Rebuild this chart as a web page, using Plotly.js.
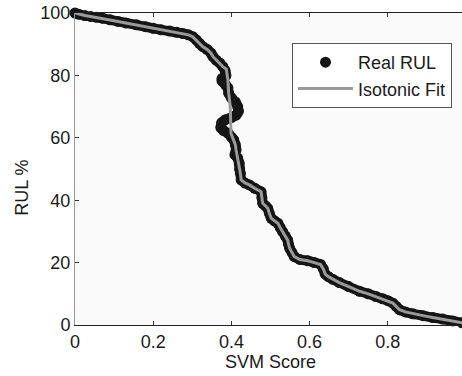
<!DOCTYPE html>
<html>
<head>
<meta charset="utf-8">
<script src="https://cdn.plot.ly/plotly-3.0.1.min.js"></script>
<style>
html,body{margin:0;padding:0;overflow:hidden;background:#fff;width:462px;height:376px;}
#chart{width:490px;height:376px;}
</style>
</head>
<body>
<div id="chart"></div>
<script>
// Real RUL: SVM score vs RUL %
const realScore = [0.000,0.010,0.025,0.040,0.055,0.071,0.090,0.110,0.130,0.157,0.180,0.200,0.220,0.242,0.260,0.276,0.290,0.301,0.310,0.318,0.327,0.338,0.348,0.353,0.361,0.370,0.378,0.384,0.386,0.376,0.376,0.385,0.391,0.393,0.400,0.410,0.416,0.418,0.412,0.400,0.385,0.375,0.373,0.380,0.392,0.400,0.406,0.410,0.412,0.409,0.416,0.420,0.421,0.423,0.425,0.435,0.446,0.460,0.476,0.478,0.480,0.487,0.493,0.497,0.502,0.510,0.519,0.525,0.531,0.538,0.544,0.546,0.549,0.555,0.561,0.575,0.595,0.612,0.628,0.635,0.640,0.648,0.660,0.676,0.700,0.728,0.750,0.770,0.787,0.800,0.813,0.822,0.830,0.845,0.864,0.890,0.915,0.940,0.966,0.990,1.000];
const realRUL   = [100.0,99.6,99.2,98.9,98.6,98.3,97.8,97.3,96.8,96.2,95.6,95.1,94.6,94.2,93.8,93.4,93.0,92.4,91.4,90.3,89.2,88.3,87.1,86.0,84.9,84.0,82.8,81.5,80.0,79.0,78.2,77.0,76.0,74.3,72.8,71.5,70.0,68.5,67.3,66.5,65.8,64.8,63.3,62.3,61.4,60.2,59.3,57.8,56.1,54.6,53.5,51.8,50.0,48.6,46.5,45.5,44.9,43.8,42.7,40.8,39.0,38.2,37.4,35.8,34.2,33.4,32.6,31.2,29.9,28.5,27.2,25.9,24.6,23.2,21.9,21.0,20.6,20.0,19.4,18.0,16.3,15.5,14.6,13.6,12.3,10.8,10.0,9.1,8.4,7.8,7.0,5.9,4.9,4.2,3.6,3.0,2.4,1.9,1.3,0.7,0.4];

// Isotonic fit
const fitScore = [0.000,0.010,0.025,0.040,0.055,0.071,0.090,0.110,0.130,0.157,0.180,0.200,0.220,0.242,0.260,0.276,0.290,0.301,0.310,0.318,0.327,0.338,0.348,0.353,0.361,0.370,0.378,0.387,0.391,0.393,0.397,0.399,0.406,0.410,0.412,0.416,0.420,0.421,0.423,0.425,0.435,0.446,0.460,0.476,0.478,0.480,0.487,0.493,0.497,0.502,0.510,0.519,0.525,0.531,0.538,0.544,0.546,0.549,0.555,0.561,0.575,0.595,0.612,0.628,0.635,0.640,0.648,0.660,0.676,0.700,0.728,0.750,0.770,0.787,0.800,0.813,0.822,0.830,0.845,0.864,0.890,0.915,0.940,0.966,0.990,1.000];
const fitRUL   = [100.0,99.6,99.2,98.9,98.6,98.3,97.8,97.3,96.8,96.2,95.6,95.1,94.6,94.2,93.8,93.4,93.0,92.4,91.4,90.3,89.2,88.3,87.1,86.0,84.9,84.0,82.8,82.0,78.5,74.3,70.0,61.4,59.3,57.8,56.1,53.5,51.8,50.0,48.6,46.5,45.5,44.9,43.8,42.7,40.8,39.0,38.2,37.4,35.8,34.2,33.4,32.6,31.2,29.9,28.5,27.2,25.9,24.6,23.2,21.9,21.0,20.6,20.0,19.4,18.0,16.3,15.5,14.6,13.6,12.3,10.8,10.0,9.1,8.4,7.8,7.0,5.9,4.9,4.2,3.6,3.0,2.4,1.9,1.3,0.7,0.4];

const xTicks = [0,0.2,0.4,0.6,0.8];
const xTickText = ['0','0.2','0.4','0.6','0.8'];
const yTicks = [0,20,40,60,80,100];

const font = {family:'Liberation Sans, Arial, sans-serif', size:18, color:'#1a1a1a'};

const traces = [
  {x: realScore, y: realRUL, mode:'lines', line:{color:'#151515', width:10, shape:'spline', smoothing:0.6},
   showlegend:false, cliponaxis:false, hoverinfo:'skip'},
  {x: realScore, y: realRUL, mode:'markers', name:'Real RUL',
   marker:{color:'#151515', size:11}, cliponaxis:false},
  {x: fitScore, y: fitRUL, mode:'lines', name:'Isotonic Fit',
   line:{color:'#9a9a9a', width:3}, cliponaxis:false}
];

const layout = {
  width:490, height:376,
  margin:{l:75, r:24, t:13, b:51},
  paper_bgcolor:'#ffffff', plot_bgcolor:'#fafafa',
  font: font,
  showlegend:true,
  legend:{x:0.555, y:0.904, xanchor:'left', yanchor:'top', bgcolor:'#ffffff',
    bordercolor:'#555555', borderwidth:1, font:font, itemwidth:55, tracegroupgap:0},
  xaxis:{range:[0,1], tickvals:xTicks, ticktext:xTickText, ticks:'inside', ticklen:4,
    tickcolor:'#333', showline:true, linecolor:'#222', linewidth:1, mirror:'ticks',
    showgrid:false, zeroline:false, tickfont:font,
    title:{text:'SVM Score', font:font, standoff:2}},
  yaxis:{range:[0,100], tickvals:yTicks, ticks:'inside', ticklen:4, tickcolor:'#333',
    showline:true, linecolor:'#999', linewidth:1, mirror:'ticks',
    showgrid:false, zeroline:false, tickfont:font},
  annotations:[{text:'RUL %', xref:'paper', yref:'paper', x:0, y:0.44,
    xanchor:'center', yanchor:'middle', xshift:-53, textangle:-90, showarrow:false, font:font}]
};

Plotly.newPlot('chart', traces, layout, {displayModeBar:false, staticPlot:true});
</script>
</body>
</html>
